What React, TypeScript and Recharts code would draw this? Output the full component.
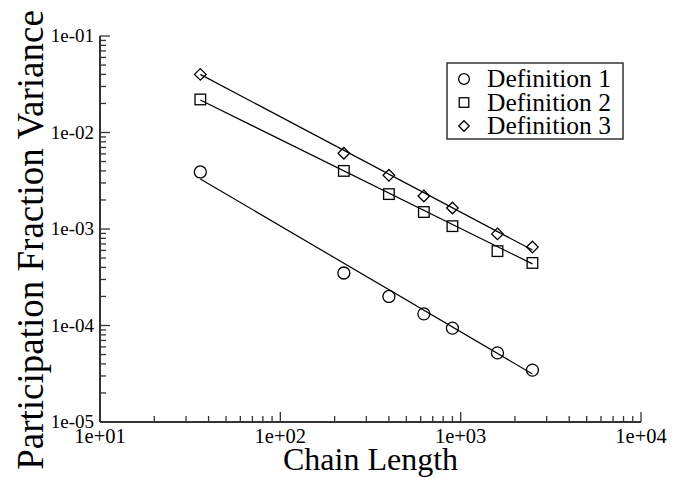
import React from 'react';
import { ScatterChart, Scatter, XAxis, YAxis } from 'recharts';

// ---- data ----
const chainLengths = [36, 225, 400, 625, 900, 1600, 2500];
const def1Values = [3.9e-3, 3.5e-4, 2.0e-4, 1.32e-4, 9.4e-5, 5.2e-5, 3.45e-5];
const def2Values = [2.2e-2, 4.0e-3, 2.3e-3, 1.5e-3, 1.07e-3, 5.9e-4, 4.45e-4];
const def3Values = [4.0e-2, 6.1e-3, 3.6e-3, 2.2e-3, 1.65e-3, 8.9e-4, 6.5e-4];

const fitEndpointsX = [36, 2500];
const fit1Values = [3.3e-3, 3.15e-5];
const fit2Values = [2.17e-2, 4.35e-4];
const fit3Values = [4.0e-2, 6.05e-4];

const seriesNames = ['Definition 1', 'Definition 2', 'Definition 3'];
const seriesShapes = ['circle', 'square', 'diamond'];

const xMajorTicks = [10, 100, 1000, 10000];
const xTickLabels = ['1e+01', '1e+02', '1e+03', '1e+04'];
const yMajorTicks = [1e-5, 1e-4, 1e-3, 1e-2, 1e-1];
const yTickLabels = ['1e-05', '1e-04', '1e-03', '1e-02', '1e-01'];
const minorMultipliers = [2, 3, 4, 5, 6, 7, 8, 9];

const xAxisTitle = 'Chain Length';
const yAxisTitle = 'Participation Fraction Variance';

// ---- helpers ----
const toPoints = (xs: number[], ys: number[]) => xs.map((x, i) => ({ x, y: ys[i] }));
const withMinors = (majors: number[]) => {
  const out: number[] = [];
  majors.forEach((m, i) => {
    out.push(m);
    if (i < majors.length - 1) minorMultipliers.forEach((k) => out.push(m * k));
  });
  return out;
};
const xTicks = withMinors(xMajorTicks);
const yTicks = withMinors(yMajorTicks);
const isMajor = (v: number) => Math.abs(Math.log10(v) - Math.round(Math.log10(v))) < 1e-6;
const xLabelOf = (v: number) => xTickLabels[xMajorTicks.findIndex((m) => Math.abs(m - v) / m < 1e-6)];
const yLabelOf = (v: number) => yTickLabels[yMajorTicks.findIndex((m) => Math.abs(m - v) / m < 1e-6)];

const FONT = '"Liberation Serif", "Times New Roman", serif';
const AXIS = '#333';
const MAJOR = 10;
const MINOR = 6;

const BottomTick = (p: any) => {
  const v = p.payload.value;
  const major = isMajor(v);
  return (
    <g>
      <line x1={p.x} x2={p.x} y1={p.y} y2={p.y - (major ? MAJOR : MINOR)} stroke={AXIS} strokeWidth={1.3} />
      {major && (
        <text x={p.x} y={p.y + 21} textAnchor="middle" fontFamily={FONT} fontSize={20.5} fill="#000">
          {xLabelOf(v)}
        </text>
      )}
    </g>
  );
};
const TopTick = (p: any) => {
  const major = isMajor(p.payload.value);
  return <line x1={p.x} x2={p.x} y1={p.y} y2={p.y + (major ? MAJOR : MINOR)} stroke={AXIS} strokeWidth={1.3} />;
};
const LeftTick = (p: any) => {
  const v = p.payload.value;
  const major = isMajor(v);
  return (
    <g>
      <line x1={p.x} x2={p.x + (major ? MAJOR : MINOR)} y1={p.y} y2={p.y} stroke={AXIS} strokeWidth={1.3} />
      {major && (
        <text x={p.x - 6} y={p.y + 6} textAnchor="end" fontFamily={FONT} fontSize={19} fill="#000">
          {yLabelOf(v)}
        </text>
      )}
    </g>
  );
};
const RightTick = (p: any) => {
  const major = isMajor(p.payload.value);
  return <line x1={p.x} x2={p.x - (major ? MAJOR : MINOR)} y1={p.y} y2={p.y} stroke={AXIS} strokeWidth={1.3} />;
};

const Marker = ({ kind, cx, cy, s = 1 }: { kind: string; cx: number; cy: number; s?: number }) => {
  const props = { fill: 'none', stroke: '#000', strokeWidth: 1.3 };
  if (kind === 'circle') return <circle cx={cx} cy={cy} r={6 * s} {...props} />;
  if (kind === 'square') return <rect x={cx - 5.3 * s} y={cy - 5.3 * s} width={10.6 * s} height={10.6 * s} {...props} />;
  const d = 5.8 * s;
  return <polygon points={`${cx},${cy - d} ${cx + d},${cy} ${cx},${cy + d} ${cx - d},${cy}`} {...props} />;
};

const seriesData = [
  toPoints(chainLengths, def1Values),
  toPoints(chainLengths, def2Values),
  toPoints(chainLengths, def3Values),
];
const fitData = [
  toPoints(fitEndpointsX, fit1Values),
  toPoints(fitEndpointsX, fit2Values),
  toPoints(fitEndpointsX, fit3Values),
];

const XTitle = (p: any) => {
  const vb = p.viewBox;
  return (
    <text x={vb.x + vb.width / 2} y={vb.y + 48} textAnchor="middle" fontFamily={FONT} fontSize={32} fill="#000">
      {xAxisTitle}
    </text>
  );
};
const YTitle = (p: any) => {
  const vb = p.viewBox;
  const cx = vb.x + 43;
  const cy = vb.y + vb.height / 2 + 11;
  return (
    <text x={cx} y={cy} transform={`rotate(-90 ${cx} ${cy})`} textAnchor="middle" fontFamily={FONT} fontSize={37} fill="#000">
      {yAxisTitle}
    </text>
  );
};

export default function App() {
  return (
    <div style={{ position: 'absolute', left: 0, top: 0, width: 696, height: 478, background: '#fff' }}>
      <ScatterChart width={696} height={478} margin={{ top: 36, right: 55, bottom: 0, left: 0 }}>
        <XAxis
          xAxisId="b"
          dataKey="x"
          type="number"
          scale="log"
          domain={[10, 10000]}
          allowDataOverflow
          ticks={xTicks}
          interval={0}
          height={56}
          tickSize={0}
          tickMargin={0}
          tickLine={false}
          axisLine={{ stroke: AXIS, strokeWidth: 2 }}
          tick={BottomTick}
          label={XTitle}
        />
        <XAxis
          xAxisId="t"
          orientation="top"
          dataKey="x"
          type="number"
          scale="log"
          domain={[10, 10000]}
          allowDataOverflow
          ticks={xTicks}
          interval={0}
          height={0}
          tickSize={0}
          tickMargin={0}
          tickLine={false}
          axisLine={{ stroke: AXIS, strokeWidth: 2 }}
          tick={TopTick}
        />
        <YAxis
          yAxisId="l"
          dataKey="y"
          type="number"
          scale="log"
          domain={[1e-5, 1e-1]}
          allowDataOverflow
          ticks={yTicks}
          interval={0}
          width={100}
          tickSize={0}
          tickMargin={0}
          tickLine={false}
          axisLine={{ stroke: AXIS, strokeWidth: 2 }}
          tick={LeftTick}
          label={YTitle}
        />
        <YAxis
          yAxisId="r"
          orientation="right"
          dataKey="y"
          type="number"
          scale="log"
          domain={[1e-5, 1e-1]}
          allowDataOverflow
          ticks={yTicks}
          interval={0}
          width={0}
          tickSize={0}
          tickMargin={0}
          tickLine={false}
          axisLine={{ stroke: AXIS, strokeWidth: 2 }}
          tick={RightTick}
        />
        {fitData.map((d, i) => (
          <Scatter
            key={`fit${i}`}
            xAxisId="b"
            yAxisId="l"
            data={d}
            line={{ stroke: '#000', strokeWidth: 1.2 }}
            shape={() => <g />}
            legendType="none"
            isAnimationActive={false}
          />
        ))}
        {seriesData.map((d, i) => (
          <Scatter
            key={seriesNames[i]}
            name={seriesNames[i]}
            xAxisId="b"
            yAxisId="l"
            data={d}
            shape={(p: any) => <Marker kind={seriesShapes[i]} cx={p.cx} cy={p.cy} />}
            isAnimationActive={false}
          />
        ))}
      </ScatterChart>
      <svg width={696} height={478} style={{ position: 'absolute', left: 0, top: 0, pointerEvents: 'none' }}>
        <rect x={447} y={63} width={176} height={76} fill="#fff" stroke={AXIS} strokeWidth={1.5} />
        {seriesNames.map((name, i) => (
          <g key={name}>
            <Marker kind={seriesShapes[i]} cx={464} cy={79 + i * 23.5} s={0.9} />
            <text x={487} y={87 + i * 23.5} fontFamily={FONT} fontSize={25.5} fill="#000">
              {name}
            </text>
          </g>
        ))}
      </svg>
    </div>
  );
}
